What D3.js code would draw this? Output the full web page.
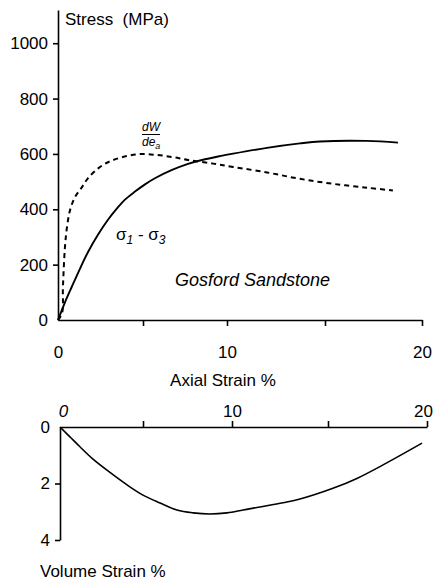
<!DOCTYPE html>
<html>
<head>
<meta charset="utf-8">
<script src="https://cdn.jsdelivr.net/npm/d3@7"></script>
<style>
  body { margin: 0; background: #fff; }
  svg { display: block; font-family: "Liberation Sans", Arial, sans-serif; }
  .axis path, .axis line { stroke: #000; stroke-width: 1.6; }
  .axis text { font-size: 17px; fill: #000; }
</style>
</head>
<body>
<div id="chart"></div>
<script>
// tick values
const strainTicks = [0, 5, 10, 15, 20];
const strainLabels = [0, 10, 20];
const stressTicks = [0, 200, 400, 600, 800, 1000];
const volTicks = [0, 2, 4];

// sigma1 - sigma3 curve (axial strain %, MPa)
const diffStrain = [0, 0.41, 0.82, 1.29, 1.76, 2.35, 2.94, 3.47, 3.94, 4.53, 5.12, 5.71, 6.73, 7.68, 8.51, 9.58, 10.31, 12.04, 13.72, 14.74, 17.16, 18.76];
const diffStress = [0, 64, 121, 185, 245, 308, 362, 403, 435, 464, 490, 512, 542, 564, 578, 592, 601, 622, 638, 645, 647, 641];

// dW/de_a curve
const workStrain = [0, 0.24, 0.29, 0.41, 0.53, 0.71, 1.0, 1.41, 1.76, 2.35, 2.94, 3.76, 4.71, 5.71, 6.73, 7.68, 9.17, 10.31, 12.04, 13.72, 15.41, 17.16, 18.5];
const workValue = [0, 25, 119, 264, 336, 397, 444, 480, 512, 547, 570, 588, 599, 597, 589, 578, 565, 553, 533, 510, 492, 478, 468];

// volume strain curve
const volAxial = [0, 0.6, 1.2, 1.99, 3.01, 4.04, 5.0, 5.96, 6.91, 7.81, 8.76, 9.72, 10.57, 11.46, 12.66, 13.54, 15.25, 16.46, 17.78, 19.75];
const volStrain = [0, 0.35, 0.70, 1.14, 1.61, 2.05, 2.41, 2.69, 2.94, 3.04, 3.08, 3.04, 2.94, 2.83, 2.68, 2.55, 2.17, 1.82, 1.34, 0.57];

const width = 435, height = 582;

const svg = d3.select("#chart").append("svg")
    .attr("width", width)
    .attr("height", height);

// scales (x scales follow the tick spacing of the scanned figure)
const xTop = d3.scaleLinear().domain(strainTicks).range([58, 143, 227, 325, 422]);
const yTop = d3.scaleLinear().domain([0, 1120]).range([320, 10]);
const xBot = d3.scaleLinear().domain(strainTicks).range([60, 143, 232, 328, 427]);
const yBot = d3.scaleLinear().domain([0, 4]).range([427, 540]);

const fmtStrain = d => strainLabels.includes(d) ? d : "";

// ---- top panel axes
const xAxisTop = svg.append("g").attr("class", "axis")
    .attr("transform", `translate(0, ${yTop(0)})`)
    .call(d3.axisBottom(xTop).tickValues(strainTicks).tickFormat(fmtStrain)
        .tickSize(6).tickSizeOuter(0).tickPadding(20));
xAxisTop.selectAll(".tick").filter(d => d === 0).select("line").remove();

const yAxisTop = svg.append("g").attr("class", "axis")
    .attr("transform", `translate(${xTop(0)}, 0)`)
    .call(d3.axisLeft(yTop).tickValues(stressTicks).tickFormat(d3.format("d"))
        .tickSize(5).tickSizeOuter(0).tickPadding(5));
yAxisTop.selectAll(".tick").filter(d => d === 0).select("line").remove();

svg.append("text")
    .attr("x", 65).attr("y", 25)
    .attr("font-size", 17)
    .attr("xml:space", "preserve")
    .text("Stress  (MPa)");

svg.append("text")
    .attr("x", 223).attr("y", 386)
    .attr("text-anchor", "middle")
    .attr("font-size", 17)
    .text("Axial Strain %");

// ---- top panel curves
const lineTop = d3.line()
    .x(d => xTop(d[0]))
    .y(d => yTop(d[1]))
    .curve(d3.curveCatmullRom.alpha(0.5));

svg.append("path")
    .datum(d3.zip(diffStrain, diffStress))
    .attr("fill", "none")
    .attr("stroke", "#000")
    .attr("stroke-width", 1.9)
    .attr("d", lineTop);

svg.append("path")
    .datum(d3.zip(workStrain, workValue))
    .attr("fill", "none")
    .attr("stroke", "#000")
    .attr("stroke-width", 2)
    .attr("stroke-dasharray", "5,4")
    .attr("d", lineTop);

// labels on the top panel
const sig = svg.append("text")
    .attr("x", 116).attr("y", 240)
    .attr("font-size", 17);
sig.append("tspan").text("σ");
sig.append("tspan").attr("font-size", 12).attr("font-style", "italic").attr("dy", 4).text("1");
sig.append("tspan").attr("dy", -4).attr("xml:space", "preserve").text(" - σ");
sig.append("tspan").attr("font-size", 12).attr("font-style", "italic").attr("dy", 4).text("3");

const frac = svg.append("g").attr("font-size", 12).attr("font-style", "italic");
frac.append("text").attr("x", 151).attr("y", 131).attr("text-anchor", "middle").text("dW");
frac.append("line")
    .attr("x1", 142).attr("x2", 160).attr("y1", 134.5).attr("y2", 134.5)
    .attr("stroke", "#000").attr("stroke-width", 1);
const de = frac.append("text").attr("x", 142).attr("y", 146);
de.append("tspan").text("de");
de.append("tspan").attr("font-size", 9).attr("dy", 3).text("a");

svg.append("text")
    .attr("x", 175).attr("y", 286)
    .attr("font-size", 18)
    .attr("font-style", "italic")
    .text("Gosford Sandstone");

// ---- bottom panel
const xAxisBot = svg.append("g").attr("class", "axis")
    .attr("transform", `translate(0, ${yBot(0)})`)
    .call(d3.axisTop(xBot).tickValues(strainTicks).tickFormat(fmtStrain)
        .tickSize(6).tickSizeOuter(0).tickPadding(4));
xAxisBot.selectAll(".tick").filter(d => d === 0).select("line").remove();
xAxisBot.selectAll(".tick").filter(d => d === 0).select("text")
    .attr("font-style", "italic").attr("dx", 3);
xAxisBot.selectAll(".tick").filter(d => d === 20).select("text").attr("dx", -4);

const yAxisBot = svg.append("g").attr("class", "axis")
    .attr("transform", `translate(${xBot(0)}, 0)`)
    .call(d3.axisLeft(yBot).tickValues(volTicks).tickFormat(d3.format("d"))
        .tickSize(5).tickSizeOuter(0).tickPadding(5));
yAxisBot.selectAll(".tick").filter(d => d === 0).select("line").remove();

const lineBot = d3.line()
    .x(d => xBot(d[0]))
    .y(d => yBot(d[1]))
    .curve(d3.curveCatmullRom.alpha(0.5));

svg.append("path")
    .datum(d3.zip(volAxial, volStrain))
    .attr("fill", "none")
    .attr("stroke", "#000")
    .attr("stroke-width", 1.6)
    .attr("d", lineBot);

svg.append("text")
    .attr("x", 40).attr("y", 577)
    .attr("font-size", 17)
    .text("Volume Strain %");
</script>
</body>
</html>
